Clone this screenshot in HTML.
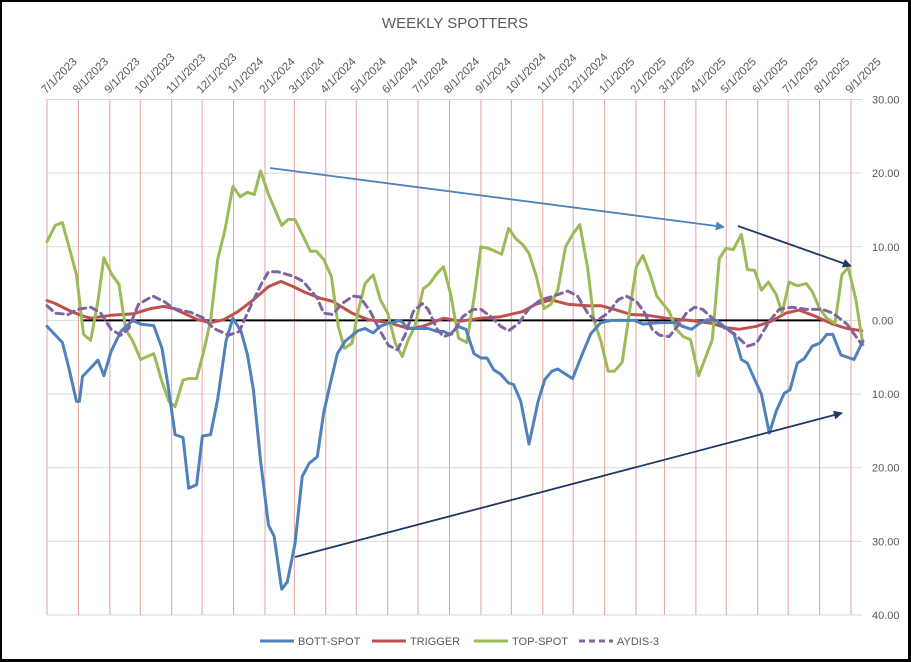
<!DOCTYPE html>
<html><head><meta charset="utf-8"><style>
html,body{margin:0;padding:0;background:#fff}
body{width:911px;height:662px;overflow:hidden;font-family:"Liberation Sans",sans-serif}
#frame{position:absolute;left:0;top:0;border:2px solid #000;border-right-width:3px;border-bottom-width:3px;box-sizing:border-box;width:911px;height:662px}
</style></head><body>
<div id="frame"></div>
<svg id="chart" width="911" height="662" style="position:absolute;left:0;top:0"></svg>
<script>
const yTicks=[30,20,10,0,-10,-20,-30,-40];
const monthLabels=["7/1/2023","8/1/2023","9/1/2023","10/1/2023","11/1/2023","12/1/2023","1/1/2024","2/1/2024","3/1/2024","4/1/2024","5/1/2024","6/1/2024","7/1/2024","8/1/2024","9/1/2024","10/1/2024","11/1/2024","12/1/2024","1/1/2025","2/1/2025","3/1/2025","4/1/2025","5/1/2025","6/1/2025","7/1/2025","8/1/2025","9/1/2025"];
// x values: months since 7/1/2023
const bottX=[0,.49,.68,.94,1.03,1.13,1.36,1.62,1.81,2.04,2.36,2.75,3.01,3.43,3.69,3.88,4.11,4.37,4.56,4.82,5.01,5.27,5.5,5.76,5.98,6.24,6.44,6.63,6.86,7.12,7.31,7.57,7.76,8.02,8.25,8.47,8.73,8.93,9.15,9.38,9.64,10.06,10.28,10.54,10.77,11.0,11.42,11.68,12.32,12.61,12.81,13.03,13.26,13.52,13.78,14.0,14.2,14.42,14.65,14.91,15.07,15.3,15.56,15.85,16.07,16.3,16.49,16.98,17.24,17.56,17.88,18.21,18.95,19.24,19.83,20.38,20.57,20.86,21.12,21.38,21.67,21.99,22.25,22.48,22.67,22.9,23.12,23.38,23.61,23.87,24.06,24.29,24.51,24.77,25.0,25.23,25.42,25.68,26.1,26.39];
const bottY=[-.8,-3,-6.2,-11,-11,-7.6,-6.6,-5.4,-7.5,-4.2,-1.5,0,-.5,-.7,-3.8,-8.7,-15.5,-15.9,-22.8,-22.3,-15.7,-15.5,-10.6,-2.8,.3,-1.5,-4.6,-9.4,-19.1,-27.8,-29.3,-36.5,-35.5,-30.3,-21.2,-19.4,-18.5,-12.6,-8.5,-4.5,-2.8,-1.4,-1.1,-1.7,-.8,-.4,0,-1.1,-1.1,-1.5,-1.5,-1.9,-.8,-1.2,-4.5,-5.1,-5.1,-6.7,-7.3,-8.5,-8.7,-11,-16.8,-11,-8,-6.9,-6.6,-7.9,-5.1,-1.8,-.3,0,0,-.5,-.3,-.3,-.8,-1.2,-.4,.1,0,-1,-1.9,-5.3,-5.8,-8,-10,-15.3,-12.3,-9.9,-9.4,-5.8,-5.2,-3.5,-3.1,-1.9,-1.9,-4.7,-5.3,-2.8];
const trigX=[0,.26,.68,1.13,1.39,2.04,2.78,3.33,3.75,4.07,4.85,5.27,5.69,6.14,6.63,7.12,7.54,7.96,8.34,8.83,9.22,9.86,10.38,11.03,11.68,12.16,12.81,13.36,14.0,14.65,15.36,15.78,16.27,16.82,17.46,17.88,18.31,18.85,19.4,20.05,20.8,21.54,21.99,22.41,22.96,23.45,23.93,24.35,24.9,25.42,25.87,26.36];
const trigY=[2.7,2.3,1.4,.6,.3,.7,.9,1.6,1.9,1.6,.1,-.3,.1,1.2,2.8,4.6,5.3,4.6,3.8,3,2.6,1,.1,-.3,-1.1,-.8,.3,-.1,.3,.5,1.2,2.2,2.8,2.2,2,2,1.5,.8,.7,.3,0,-.4,-1,-1.2,-.8,-.1,1,1.4,.5,-.5,-1.1,-1.4];
const topX=[0,.26,.49,.68,.94,1.16,1.39,1.62,1.81,2.07,2.3,2.52,2.75,3.01,3.43,3.69,3.91,4.11,4.37,4.56,4.82,5.05,5.27,5.5,5.72,5.98,6.21,6.44,6.66,6.86,7.12,7.57,7.79,8.02,8.25,8.51,8.7,8.93,9.18,9.41,9.61,9.86,10.06,10.28,10.54,10.77,11.0,11.25,11.48,11.68,11.9,12.16,12.35,12.61,12.81,13.03,13.29,13.55,13.78,14.0,14.23,14.42,14.68,14.91,15.14,15.36,15.56,15.78,16.04,16.27,16.49,16.75,16.98,17.21,17.46,17.66,17.88,18.11,18.31,18.56,18.79,19.01,19.24,19.5,19.73,20.15,20.38,20.6,20.83,21.09,21.35,21.54,21.77,21.99,22.22,22.48,22.67,22.9,23.12,23.35,23.61,23.8,24.03,24.29,24.58,24.77,25.0,25.23,25.49,25.71,25.91,26.16,26.39];
const topY=[10.7,12.9,13.3,10.3,6.2,-1.9,-2.7,2.6,8.5,6.2,4.9,-1.2,-2.8,-5.3,-4.5,-8.3,-11,-11.7,-8.1,-7.9,-7.9,-4.2,0,8.4,12.2,18.2,16.8,17.4,17.1,20.3,17.1,12.9,13.7,13.7,11.7,9.4,9.4,8.3,6,-.8,-3.8,-3.1,1.2,5,6.2,2.8,1,-3.1,-4.9,-2.6,-.8,4.3,4.9,6.4,7.3,3.7,-2.4,-3,3,10,9.8,9.5,9,12.5,11.1,10.3,9.1,6.2,1.6,2.2,4.1,10,11.7,13,7.1,0,-2.8,-6.9,-6.9,-5.7,1.2,7.3,8.8,6.2,3.3,1.2,-1.2,-2.2,-2.6,-7.5,-4.7,-2.6,8.4,9.8,9.6,11.7,6.9,6.8,4.1,5.2,3.5,1,5.2,4.7,5,3.9,1.6,.3,-.4,6.2,7.2,2.8,-3.3];
const aydX=[0,.26,.68,.97,1.39,1.71,2.04,2.36,2.62,2.94,3.4,3.75,4.07,4.62,5.05,5.37,5.85,6.18,6.57,6.89,7.12,7.44,7.96,8.28,8.73,8.93,9.22,9.54,9.9,10.12,10.45,10.77,11.03,11.32,11.58,11.84,12.13,12.32,12.61,12.81,13.1,13.42,13.75,14.0,14.33,14.65,14.91,15.23,15.56,15.94,16.36,16.82,17.14,17.46,17.72,18.11,18.43,18.69,19.01,19.28,19.57,19.83,20.15,20.41,20.7,20.96,21.22,21.54,21.86,22.25,22.67,22.96,23.38,23.71,24.13,24.58,25.1,25.42,25.87,26.36];
const aydY=[2,1,.8,1.5,1.8,1,-1.2,-2,-1.1,2.2,3.3,2.6,1.6,1.1,.3,-1.1,-2,-1.5,2.2,5,6.6,6.6,6,5.3,3,1,.8,2.3,3.3,3.2,1.2,-1.5,-3.4,-4,-1.9,1.2,2.3,1.5,-1.2,-2.2,-1.8,.5,1.5,1.5,.5,-.8,-1.4,-.4,1.6,2.8,3.3,4,3.3,1,-.1,1,2.8,3.3,2.6,1.2,-1.2,-2,-2.2,-.8,1,1.8,1.5,.3,-.8,-1.8,-3.5,-3.1,-.1,1.5,1.8,1.5,1.5,1,-.5,-3.3];

const NS="http://www.w3.org/2000/svg";
const svg=document.getElementById('chart');
const X0=47,X1=851,YTOP=99.5,YBOT=615;
const d0=Date.UTC(2023,6,1),d1=Date.UTC(2025,8,1);
function xDate(t){return X0+(t-d0)/(d1-d0)*(X1-X0);}
function xScale(m){const k=Math.floor(m),f=m-k;const a=Date.UTC(2023,6+k,1),b=Date.UTC(2023,7+k,1);return xDate(a+f*(b-a));}
function yScale(v){return YTOP+(30-v)/70*(YBOT-YTOP);}
function mk(tag,attrs,parent){const e=document.createElementNS(NS,tag);for(const k in attrs)e.setAttribute(k,attrs[k]);(parent||svg).appendChild(e);return e;}

let t=mk('text',{x:455,y:28,'text-anchor':'middle','font-size':15,fill:'#595959'});
t.textContent='WEEKLY SPOTTERS';



const grid=mk('g',{});


yTicks.forEach(v=>{
  const y=yScale(v);
  const l=mk('line',{x1:X0,x2:862,y1:y,y2:y,stroke:'#d9d9d9','stroke-width':1},grid);
  
  
  const tx=mk('text',{x:872,y:y+4,'font-size':11,fill:'#595959'});
  tx.textContent=Math.abs(v).toFixed(2);
  
  
});
const vg=mk('g',{});


monthLabels.forEach((lab,i)=>{
  const x=xDate(Date.UTC(2023,6+i,1));
  const l=mk('line',{x1:x,x2:x,y1:YTOP,y2:YBOT,stroke:'#e6a0a0','stroke-width':1},vg);
  
  
  const tx=mk('text',{x:0,y:0,'font-size':11.5,fill:'#595959','text-anchor':'start',transform:`translate(${x-1},${94}) rotate(-45)`});
  tx.textContent=lab;
  
  
});
const zl=mk('line',{x1:83,x2:825,y1:yScale(0),y2:yScale(0),stroke:'#000','stroke-width':2});



function series(xs,ys,color,name,dash){
  const pts=xs.map((m,i)=>xScale(m).toFixed(1)+','+yScale(ys[i]).toFixed(1)).join(' ');
  const p=mk('polyline',{points:pts,fill:'none',stroke:color,'stroke-width':3,'stroke-linejoin':'round','stroke-linecap':'round'});
  if(dash)p.setAttribute('stroke-dasharray','7,5');
  
  
}
series(trigX,trigY,'#c0504d','trigger-line');
series(topX,topY,'#9bbb59','top-spot-line');
series(bottX,bottY,'#4f81bd','bott-spot-line');
series(aydX,aydY,'#8064a2','aydis-3-line',true);

const defs=mk('defs',{});
function marker(id,c){const m=mk('marker',{id:id,viewBox:'0 0 10 10',refX:9,refY:5,markerWidth:5,markerHeight:5,orient:'auto'},defs);mk('path',{d:'M0,0 L10,5 L0,10 z',fill:c},m);}
marker('mb','#4f81bd');marker('mn','#1f3864');
function arrow(x1,y1,x2,y2,c,mid,name){const l=mk('line',{x1,y1,x2,y2,stroke:c,'stroke-width':1.8,'marker-end':`url(#${mid})`});}
arrow(270,168,724,227,'#4f81bd','mb','trend-arrow-top');
arrow(738,226,851,266,'#1f3864','mn','trend-arrow-recent');
arrow(295,557,842,413,'#1f3864','mn','trend-arrow-bottom');

const lg=mk('g',{});


[['BOTT-SPOT','#4f81bd',260,false],['TRIGGER','#c0504d',372,false],['TOP-SPOT','#9bbb59',474,false],['AYDIS-3','#8064a2',579,true]].forEach(([n,c,x,d])=>{
  const g=mk('g',{},lg);
  
  
  const l=mk('line',{x1:x,x2:x+34,y1:641,y2:641,stroke:c,'stroke-width':3},g);
  if(d)l.setAttribute('stroke-dasharray','6,4');
  const tx=mk('text',{x:x+38,y:645,'font-size':11,fill:'#595959'},g);
  tx.textContent=n;
});
</script>
</body></html>
